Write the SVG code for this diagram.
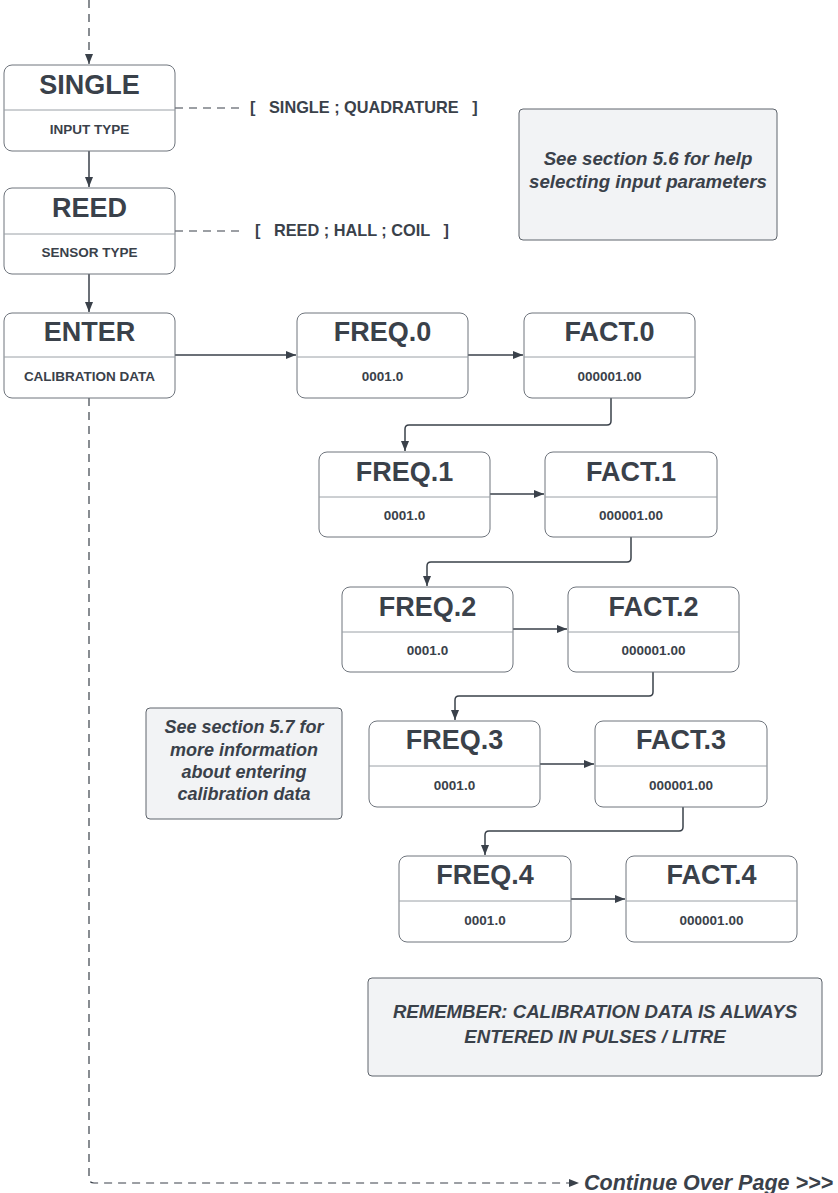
<svg xmlns="http://www.w3.org/2000/svg" width="838" height="1193" viewBox="0 0 838 1193">
<style>
.box{fill:#ffffff;stroke:#6f757d;stroke-width:1}
.div{stroke:#9aa0a6;stroke-width:1}
.note{fill:#f2f3f5;stroke:#5e646c;stroke-width:1}
.t{font-family:"Liberation Sans",Arial,sans-serif;font-weight:bold;fill:#3a414a;text-anchor:middle}
.title{font-size:27px}
.sub{font-size:13.5px}
.val{font-size:13.5px}
.br{font-size:16.3px;text-anchor:start;white-space:pre}
.it{font-style:italic;font-size:18px}
.c{fill:none;stroke:#3a414a;stroke-width:1.5}
.d{fill:none;stroke:#3a414a;stroke-width:1.2;stroke-dasharray:8 6}
</style>
<defs>
<marker id="ah" markerUnits="userSpaceOnUse" markerWidth="10" markerHeight="8" refX="10" refY="4" orient="auto">
<path d="M0,0 L10,4 L0,8 z" fill="#3a414a"/>
</marker>
</defs>
<g id="connectors">
<path class="d" d="M89,0 V64" marker-end="url(#ah)"/>
<path class="c" d="M89,151 V187" marker-end="url(#ah)"/>
<path class="c" d="M89,274 V312" marker-end="url(#ah)"/>
<path class="d" d="M175,108 H243"/>
<path class="d" d="M175,231 H243"/>
<path class="c" d="M175,355 H296" marker-end="url(#ah)"/>
<path class="c" d="M468,355 H523" marker-end="url(#ah)"/>
<path class="c" d="M611,398 V421 Q611,425 607,425 H409 Q405,425 405,429 V451" marker-end="url(#ah)"/>
<path class="c" d="M490,494 H544" marker-end="url(#ah)"/>
<path class="c" d="M631,537 V558 Q631,562 627,562 H431 Q427,562 427,566 V586" marker-end="url(#ah)"/>
<path class="c" d="M513,629 H567" marker-end="url(#ah)"/>
<path class="c" d="M653,672 V692 Q653,696 649,696 H459 Q455,696 455,700 V720" marker-end="url(#ah)"/>
<path class="c" d="M540,764 H594" marker-end="url(#ah)"/>
<path class="c" d="M683,807 V827 Q683,831 679,831 H489 Q485,831 485,835 V855" marker-end="url(#ah)"/>
<path class="c" d="M571,899 H625" marker-end="url(#ah)"/>
<path class="d" d="M89,398 V1178 Q89,1183 94,1183 H579" marker-end="url(#ah)"/>
</g>
<g id="single">
<rect class="box" x="4" y="65" width="171" height="86" rx="8"/>
<line class="div" x1="4" y1="110" x2="175" y2="110"/>
<text class="t title" x="89.5" y="94">SINGLE</text>
<text class="t sub" x="89.5" y="134">INPUT TYPE</text>
</g>
<g id="single-options"><text class="t br" x="250" y="113">[   SINGLE ; QUADRATURE   ]</text></g>
<g id="reed">
<rect class="box" x="4" y="188" width="171" height="86" rx="8"/>
<line class="div" x1="4" y1="234" x2="175" y2="234"/>
<text class="t title" x="89.5" y="217">REED</text>
<text class="t sub" x="89.5" y="257">SENSOR TYPE</text>
</g>
<g id="reed-options"><text class="t br" x="255" y="236">[   REED ; HALL ; COIL   ]</text></g>
<g id="enter">
<rect class="box" x="4" y="313" width="171" height="85" rx="8"/>
<line class="div" x1="4" y1="357" x2="175" y2="357"/>
<text class="t title" x="89.5" y="341">ENTER</text>
<text class="t sub" x="89.5" y="381">CALIBRATION DATA</text>
</g>
<g id="freq0">
<rect class="box" x="297" y="313" width="171" height="85" rx="8"/>
<line class="div" x1="297" y1="357" x2="468" y2="357"/>
<text class="t title" x="382.5" y="341">FREQ.0</text>
<text class="t val" x="382.5" y="381">0001.0</text>
</g>
<g id="fact0">
<rect class="box" x="524" y="313" width="171" height="85" rx="8"/>
<line class="div" x1="524" y1="357" x2="695" y2="357"/>
<text class="t title" x="609.5" y="341">FACT.0</text>
<text class="t val" x="609.5" y="381">000001.00</text>
</g>
<g id="freq1">
<rect class="box" x="319" y="452" width="171" height="85" rx="8"/>
<line class="div" x1="319" y1="497" x2="490" y2="497"/>
<text class="t title" x="404.5" y="481">FREQ.1</text>
<text class="t val" x="404.5" y="520">0001.0</text>
</g>
<g id="fact1">
<rect class="box" x="545" y="452" width="172" height="85" rx="8"/>
<line class="div" x1="545" y1="497" x2="717" y2="497"/>
<text class="t title" x="631" y="481">FACT.1</text>
<text class="t val" x="631" y="520">000001.00</text>
</g>
<g id="freq2">
<rect class="box" x="342" y="587" width="171" height="85" rx="8"/>
<line class="div" x1="342" y1="632" x2="513" y2="632"/>
<text class="t title" x="427.5" y="616">FREQ.2</text>
<text class="t val" x="427.5" y="655">0001.0</text>
</g>
<g id="fact2">
<rect class="box" x="568" y="587" width="171" height="85" rx="8"/>
<line class="div" x1="568" y1="632" x2="739" y2="632"/>
<text class="t title" x="653.5" y="616">FACT.2</text>
<text class="t val" x="653.5" y="655">000001.00</text>
</g>
<g id="freq3">
<rect class="box" x="369" y="721" width="171" height="86" rx="8"/>
<line class="div" x1="369" y1="766" x2="540" y2="766"/>
<text class="t title" x="454.5" y="749">FREQ.3</text>
<text class="t val" x="454.5" y="790">0001.0</text>
</g>
<g id="fact3">
<rect class="box" x="595" y="721" width="172" height="86" rx="8"/>
<line class="div" x1="595" y1="766" x2="767" y2="766"/>
<text class="t title" x="681" y="749">FACT.3</text>
<text class="t val" x="681" y="790">000001.00</text>
</g>
<g id="freq4">
<rect class="box" x="399" y="856" width="172" height="86" rx="8"/>
<line class="div" x1="399" y1="901" x2="571" y2="901"/>
<text class="t title" x="485" y="884">FREQ.4</text>
<text class="t val" x="485" y="925">0001.0</text>
</g>
<g id="fact4">
<rect class="box" x="626" y="856" width="171" height="86" rx="8"/>
<line class="div" x1="626" y1="901" x2="797" y2="901"/>
<text class="t title" x="711.5" y="884">FACT.4</text>
<text class="t val" x="711.5" y="925">000001.00</text>
</g>
<g id="note56">
<rect class="note" x="519" y="109" width="258" height="131" rx="4"/>
<text class="t it" x="648" y="165" style="font-size:18.7px">See section 5.6 for help</text>
<text class="t it" x="648" y="188" style="font-size:18.7px">selecting input parameters</text>
</g>
<g id="note57">
<rect class="note" x="146" y="708" width="196" height="111" rx="4"/>
<text class="t it" x="244" y="733">See section 5.7 for</text>
<text class="t it" x="244" y="756">more information</text>
<text class="t it" x="244" y="778">about entering</text>
<text class="t it" x="244" y="800">calibration data</text>
</g>
<g id="remember">
<rect class="note" x="368" y="978" width="454" height="98" rx="4"/>
<text class="t it" x="595" y="1018" style="font-size:18.6px">REMEMBER: CALIBRATION DATA IS ALWAYS</text>
<text class="t it" x="595" y="1043" style="font-size:18.6px">ENTERED IN PULSES / LITRE</text>
</g>
<g id="continue">
<text class="t it" x="584" y="1190" style="font-size:21.5px;text-anchor:start">Continue Over Page &gt;&gt;&gt;</text>
</g>
</svg>
